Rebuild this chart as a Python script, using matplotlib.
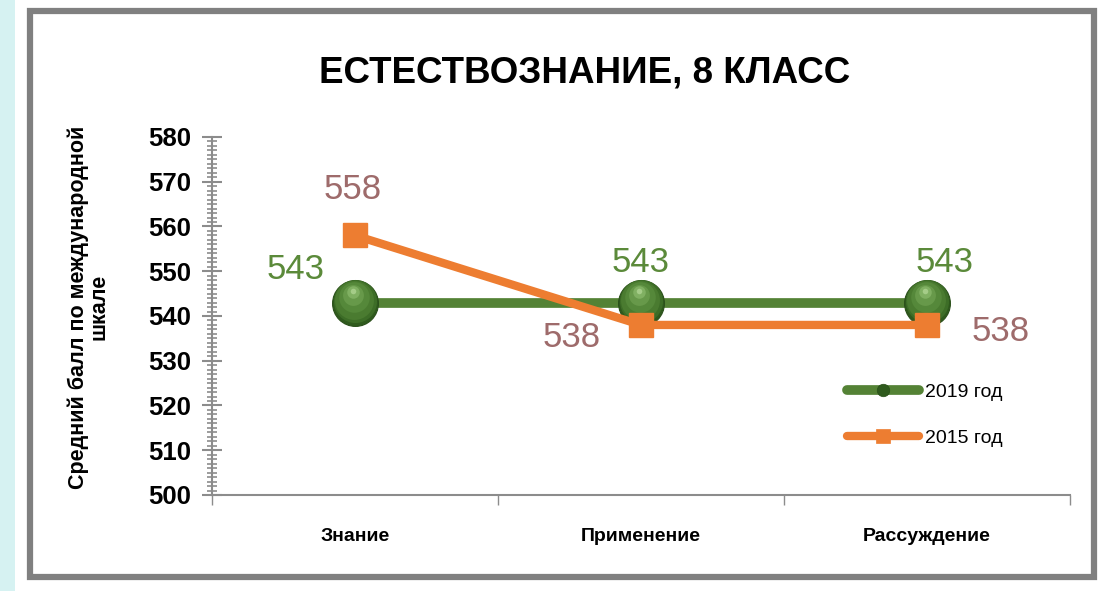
import matplotlib.pyplot as plt
from matplotlib.patches import Rectangle
from matplotlib.ticker import MultipleLocator, FixedLocator, NullFormatter
import numpy as np

CATEGORIES = ['Знание', 'Применение', 'Рассуждение']
SCORES_2019 = [543, 543, 543]
SCORES_2015 = [558, 538, 538]
SERIES_NAMES = ['2019 год', '2015 год']

GREEN = '#548235'
ORANGE = '#ED7D31'
GREEN_TXT = '#5b8a3a'
MAUVE_TXT = '#9e6b6b'
GRAY = '#8c8c8c'

SANS = ['Liberation Sans', 'DejaVu Sans']

fig = plt.figure(figsize=(11.11, 5.91), dpi=100)

# background strip and frame
fig.patches.append(Rectangle((0, 0), 15 / 1111, 1, transform=fig.transFigure,
                             facecolor='#d6f2f2', edgecolor='none', zorder=-5))
fig.patches.append(Rectangle((30 / 1111, 14 / 591), 1064 / 1111, 566 / 591,
                             transform=fig.transFigure, facecolor='white',
                             edgecolor='#808080', linewidth=4.5, zorder=-5))

ax = fig.add_axes([212 / 1111, 1 - 495 / 591, (1070 - 212) / 1111, (495 - 137) / 591])
ax.set_facecolor('none')

x = np.arange(len(CATEGORIES))

ax.plot(x, SCORES_2019, color=GREEN, lw=7, solid_capstyle='round', zorder=3,
        marker='o', markersize=33, markerfacecolor='#2f5a1d',
        markeredgecolor='#2a4f1a', markeredgewidth=0.8, label=SERIES_NAMES[0])
# layered discs to fake the sphere shading
layers = [(31, '#3d6d27', 0.3), (28, '#4a7b30', 0.6), (22, '#55883a', 1.2),
          (15, '#67994a', 1.8), (9, '#80b062', 2.3), (4, '#a5cc88', 2.6)]
for ms, col, dy in layers:
    ax.plot(x - 0.003 * dy, np.array(SCORES_2019) + dy, ls='none', marker='o',
            markersize=ms, markerfacecolor=col, markeredgecolor='none', zorder=4)
ax.plot(x, SCORES_2015, color=ORANGE, lw=6, solid_capstyle='round', zorder=5,
        marker='s', markersize=17, markerfacecolor=ORANGE,
        markeredgecolor=ORANGE, label=SERIES_NAMES[1])

# data labels (offsets in points)
offs_2019 = [(-43, 24), (0, 29), (13, 29)]
offs_2015 = [(-2, 33), (-50, -9), (53, -5)]
for i in range(len(CATEGORIES)):
    ax.annotate(str(SCORES_2019[i]), (x[i], SCORES_2019[i]), xytext=offs_2019[i],
                textcoords='offset points', ha='center', va='center',
                fontsize=25, color=GREEN_TXT, family=SANS, zorder=6)
    ax.annotate(str(SCORES_2015[i]), (x[i], SCORES_2015[i]), xytext=offs_2015[i],
                textcoords='offset points', ha='center', va='center',
                fontsize=25, color=MAUVE_TXT, family=SANS, zorder=6)

ax.set_xlim(-0.5, len(CATEGORIES) - 0.5)
ax.set_ylim(500, 580)

ax.yaxis.set_major_locator(MultipleLocator(10))
ax.yaxis.set_minor_locator(MultipleLocator(1))
ax.tick_params(axis='y', which='major', direction='inout', length=14, width=1.5,
               color=GRAY, pad=8)
ax.tick_params(axis='y', which='minor', direction='inout', length=7, width=1.2,
               color=GRAY)
for lab in ax.get_yticklabels():
    lab.set_family(SANS)
    lab.set_fontsize(18.5)
    lab.set_fontweight('bold')

ax.xaxis.set_major_locator(FixedLocator(np.arange(-0.5, len(CATEGORIES), 1.0)))
ax.xaxis.set_major_formatter(NullFormatter())
ax.xaxis.set_minor_locator(FixedLocator(x))
ax.set_xticklabels(CATEGORIES, minor=True)
ax.tick_params(axis='x', which='major', direction='out', length=7, width=1, color=GRAY)
ax.tick_params(axis='x', which='minor', length=0, pad=24)
for lab in ax.get_xticklabels(minor=True):
    lab.set_family(SANS)
    lab.set_fontsize(14)
    lab.set_fontweight('bold')

for side in ['top', 'right']:
    ax.spines[side].set_visible(False)
for side in ['left', 'bottom']:
    ax.spines[side].set_color(GRAY)
    ax.spines[side].set_linewidth(1.5)

ax.set_ylabel('Средний балл по международной\nшкале', family=SANS, fontsize=15.5,
              fontweight='bold', linespacing=1.0)
ax.yaxis.set_label_coords(-0.119, 0.525)

fig.text(585 / 1111, 1 - 73 / 591, 'ЕСТЕСТВОЗНАНИЕ, 8 КЛАСС', ha='center', va='center',
         fontsize=26.5, fontweight='bold', family=SANS)

leg = ax.legend(loc='upper left', bbox_to_anchor=(0.72, 0.36), frameon=False,
                prop={'family': SANS, 'size': 14}, handlelength=3.7,
                labelspacing=1.45, handletextpad=0.3)
for h, ms in zip(leg.legend_handles, [9, 10]):
    h.set_markersize(ms)
    h.set_markeredgewidth(0.5)

fig.savefig('out.png', dpi=100)
